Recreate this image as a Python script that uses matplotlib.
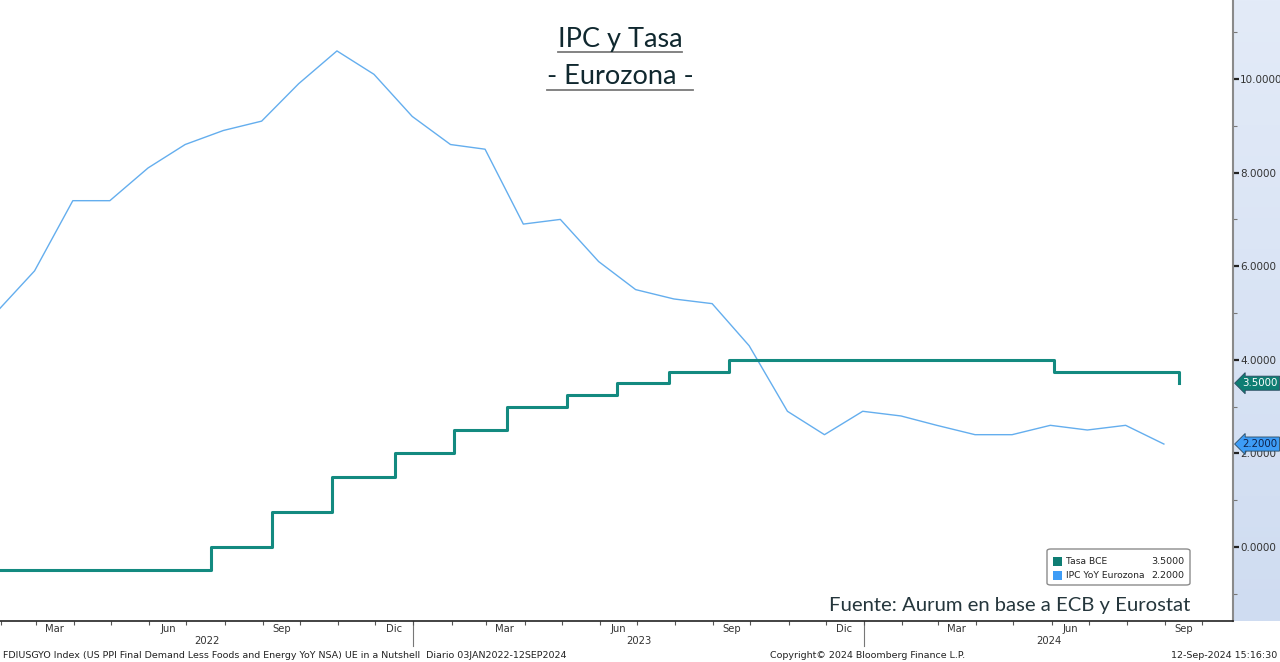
import matplotlib
matplotlib.use("Agg")
import matplotlib.pyplot as plt
import matplotlib.dates as mdates
import numpy as np
from matplotlib.patches import FancyBboxPatch, Rectangle
from matplotlib.lines import Line2D
from matplotlib.ticker import FixedLocator, NullFormatter, FuncFormatter, MultipleLocator
from matplotlib.colors import LinearSegmentedColormap
import datetime as dt

# ---------------- data ----------------
cpi_months = ["2022-01-31", "2022-02-28", "2022-03-31", "2022-04-30", "2022-05-31", "2022-06-30",
              "2022-07-31", "2022-08-31", "2022-09-30", "2022-10-31", "2022-11-30", "2022-12-31",
              "2023-01-31", "2023-02-28", "2023-03-31", "2023-04-30", "2023-05-31", "2023-06-30",
              "2023-07-31", "2023-08-31", "2023-09-30", "2023-10-31", "2023-11-30", "2023-12-31",
              "2024-01-31", "2024-02-29", "2024-03-31", "2024-04-30", "2024-05-31", "2024-06-30",
              "2024-07-31", "2024-08-31"]
cpi_values = [5.1, 5.9, 7.4, 7.4, 8.1, 8.6, 8.9, 9.1, 9.9, 10.6, 10.1, 9.2,
              8.6, 8.5, 6.9, 7.0, 6.1, 5.5, 5.3, 5.2, 4.3, 2.9, 2.4, 2.9,
              2.8, 2.6, 2.4, 2.4, 2.6, 2.5, 2.6, 2.2]

rate_dates = ["2022-01-03", "2022-07-21", "2022-09-08", "2022-10-27", "2022-12-17", "2023-02-03",
              "2023-03-18", "2023-05-05", "2023-06-15", "2023-07-27", "2023-09-14", "2024-06-03",
              "2024-09-12"]
rate_values = [-0.5, 0.0, 0.75, 1.5, 2.0, 2.5, 3.0, 3.25, 3.5, 3.75, 4.0, 3.75, 3.5]

quarter_labels = ["Mar", "Jun", "Sep", "Dic"]
years = [2022, 2023, 2024]

title_lines = ["IPC y Tasa", "- Eurozona -"]
source_text = "Fuente: Aurum en base a ECB y Eurostat"
legend_names = ["Tasa BCE", "IPC YoY Eurozona"]
footer_left = "FDIUSGYO Index (US PPI Final Demand Less Foods and Energy YoY NSA) UE in a Nutshell  Diario 03JAN2022-12SEP2024"
footer_mid = "Copyright\u00a9 2024 Bloomberg Finance L.P."
footer_right = "12-Sep-2024 15:16:30"

# ---------------- style ----------------
W, H = 1280, 662
TEAL = "#138a80"
TEAL_DARK = "#0e7d73"
BLUE_LINE = "#64aeee"
BLUE_TAG = "#3d9cf6"

def fx(x):
    return x / W

def fy(y):
    return 1 - y / H

cpi_x = [dt.datetime.strptime(d, "%Y-%m-%d") for d in cpi_months]
rate_x = [dt.datetime.strptime(d, "%Y-%m-%d") for d in rate_dates]

fig = plt.figure(figsize=(W / 100, H / 100), dpi=100)
fig.patch.set_facecolor("white")

plot_right = 1233
plot_bottom = 621
bg = fig.add_axes([fx(plot_right), fy(plot_bottom), 1 - fx(plot_right), plot_bottom / H], zorder=0)
grad = np.linspace(0, 1, 256).reshape(-1, 1)
cm = LinearSegmentedColormap.from_list("g", ["#e3ebf8", "#cfdcf1"])
bg.imshow(grad, aspect="auto", cmap=cm, extent=[0, 1, 0, 1], origin="upper")
bg.set_axis_off()

ax = fig.add_axes([0, fy(plot_bottom), fx(plot_right), plot_bottom / H], zorder=2)
ax.patch.set_alpha(0)

ax.plot(cpi_x, cpi_values, color=BLUE_LINE, lw=1.0, zorder=3)
ax.plot(rate_x, rate_values, color=TEAL, lw=2.2, drawstyle="steps-post", zorder=4)

ax.set_xlim(dt.datetime(2022, 1, 31), dt.datetime(2024, 10, 26))
ax.set_ylim(-1.581, 11.688)

for s in ["top", "left"]:
    ax.spines[s].set_visible(False)
ax.spines["bottom"].set_color("#222222")
ax.spines["bottom"].set_linewidth(1.2)
ax.spines["right"].set_color("#8a8a8a")
ax.spines["right"].set_linewidth(1.5)

ax.yaxis.tick_right()
ax.yaxis.set_major_locator(MultipleLocator(2))
ax.yaxis.set_minor_locator(MultipleLocator(1))
ax.yaxis.set_major_formatter(FuncFormatter(lambda v, p: f"{v:.4f}"))
ax.tick_params(axis="y", which="major", direction="out", length=4, width=1.6, color="#222222",
               labelsize=7.5, labelcolor="#333333", pad=1)
ax.tick_params(axis="y", which="minor", direction="out", length=3, width=0.8, color="#777777")

ax.xaxis.set_major_locator(mdates.MonthLocator())
ax.xaxis.set_major_formatter(NullFormatter())
label_dates = []
label_texts = []
qmonths = [3, 6, 9, 12]
for y in years:
    for m, lab in zip(qmonths, quarter_labels):
        d = dt.datetime(y, m, 16)
        label_dates.append(mdates.date2num(d))
        label_texts.append(lab)
ax.xaxis.set_minor_locator(FixedLocator(label_dates))
ax.xaxis.set_minor_formatter(FuncFormatter(lambda v, p: label_texts[label_dates.index(v)] if v in label_dates else ""))
ax.tick_params(axis="x", which="major", direction="out", length=3, width=0.8, color="#555555")
ax.tick_params(axis="x", which="minor", length=0, labelsize=7.2, labelcolor="#333333", pad=2.5)

xmin, xmax = ax.get_xlim()
for y in years:
    a = max(mdates.date2num(dt.datetime(y, 1, 1)), xmin)
    b = min(mdates.date2num(dt.datetime(y + 1, 1, 1)), xmax)
    xc = ax.transData.transform(((a + b) / 2, 0))[0] / W
    fig.text(xc, fy(641), str(y), ha="center", va="center", fontsize=7.2, color="#333333")
    if y > years[0]:
        xs = ax.transData.transform((mdates.date2num(dt.datetime(y, 1, 1)), 0))[0] / W
        fig.add_artist(Line2D([xs, xs], [fy(621), fy(646)], color="#777777", lw=0.8))

for val, fc, tc in [(rate_values[-1], TEAL_DARK, "white"), (cpi_values[-1], BLUE_TAG, "#10224a")]:
    ax.text(1.0075, val, f"{val:.4f}", transform=ax.get_yaxis_transform(), ha="left", va="center",
            fontsize=7.4, color=tc, zorder=6, clip_on=False,
            bbox=dict(boxstyle="larrow,pad=0.2", fc=fc, ec="#2a4a60", lw=0.6))

title_font = dict(family="Lato", fontsize=19.5, color="#10282f")
t1 = fig.text(fx(620), fy(39), title_lines[0], ha="center", va="center", **title_font)
t2 = fig.text(fx(620), fy(77), title_lines[1], ha="center", va="center", **title_font)
fig.canvas.draw()
r = fig.canvas.get_renderer()
for t, yline in [(t1, 52), (t2, 90)]:
    bb = t.get_window_extent(r)
    fig.add_artist(Line2D([bb.x0 / W, bb.x1 / W], [fy(yline), fy(yline)], color="#7a7a7a", lw=1.3))

fig.text(fx(1190), fy(606), source_text, ha="right", va="center", family="Lato", fontsize=14.6, color="#25363c")

lb = FancyBboxPatch((fx(1047), fy(585)), fx(1190) - fx(1047), fy(549) - fy(585),
                    boxstyle="round,pad=0,rounding_size=0.003", transform=fig.transFigure,
                    fc="white", ec="#8c8c8c", lw=1.0, zorder=5)
fig.add_artist(lb)
for i, (name, col, val) in enumerate(zip(legend_names, [TEAL_DARK, BLUE_TAG], [rate_values[-1], cpi_values[-1]])):
    yy = 561 + i * 14
    fig.add_artist(Rectangle((fx(1053), fy(yy + 4.5)), 9 / W, 9 / H, transform=fig.transFigure,
                             fc=col, ec="none", zorder=6))
    fig.text(fx(1066), fy(yy), name, ha="left", va="center", fontsize=6.6,
             color="#222222", zorder=7)
    fig.text(fx(1184), fy(yy), f"{val:.4f}", ha="right", va="center", fontsize=6.8,
             color="#222222", zorder=7)

fig.text(fx(3), fy(655), footer_left, ha="left", va="center", fontsize=6.8, color="#222222")
fig.text(fx(868), fy(655), footer_mid, ha="center", va="center", fontsize=6.8, color="#222222")
fig.text(fx(1277), fy(655), footer_right, ha="right", va="center", fontsize=6.8, color="#222222")

fig.savefig("out.png", dpi=100, facecolor="white")
